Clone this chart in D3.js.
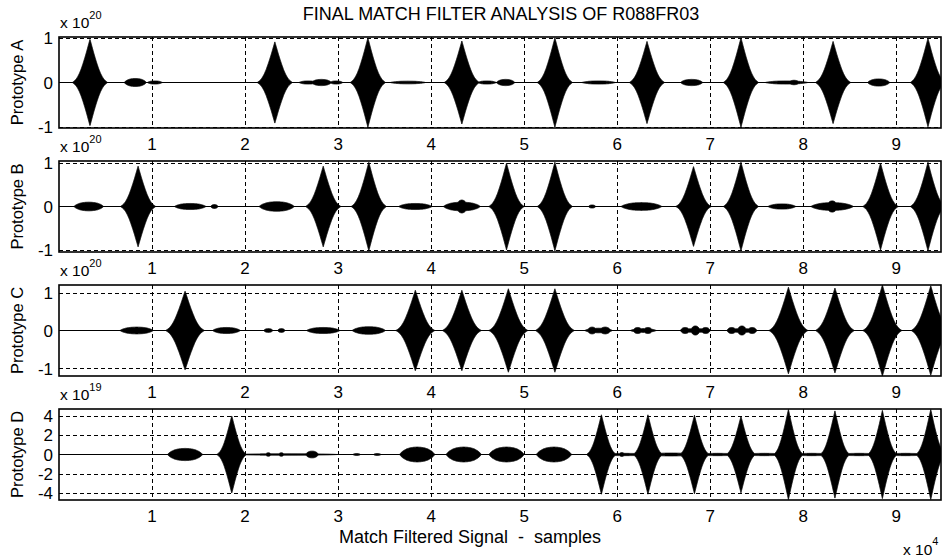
<!DOCTYPE html>
<html>
<head>
<meta charset="utf-8">
<script src="https://cdn.jsdelivr.net/npm/d3@7/dist/d3.min.js"></script>
<style>
  html, body { margin: 0; padding: 0; background: #fff; }
  svg text { font-family: "Liberation Sans", Arial, Helvetica, sans-serif; fill: #000; white-space: pre; }
</style>
</head>
<body>
<svg id="chart" width="943" height="558"></svg>
<script>
// ---------------- DATA ----------------
const title = "FINAL MATCH FILTER ANALYSIS OF R088FR03";
const xLabel = "Match Filtered Signal  -  samples";
const xExponent = "4";
const xMax = 94800;                       // samples
const xTickValues = [10000, 20000, 30000, 40000, 50000, 60000, 70000, 80000, 90000];
const xTickLabels = ["1", "2", "3", "4", "5", "6", "7", "8", "9"];

const panelNames = ["Prototype A", "Prototype B", "Prototype C", "Prototype D"];
const panelExponents = ["20", "20", "20", "19"];
const yLimits = [[-1.02, 1.02], [-1.05, 1.05], [-1.2, 1.2], [-4.7, 4.7]];
const yTicksA = [-1, 0, 1];
const yTicksB = [-1, 0, 1];
const yTicksC = [-1, 0, 1];
const yTicksD = [-4, -2, 0, 2, 4];

// burst envelopes: [centre (samples), peak amplitude, half-width (samples), kind]
// kind "p" = matched (peaked) response, "l" = weak lobe
const burstsA = [
  [3330, 0.97, 1900, "p"], [8200, 0.09, 1200, "l"], [10300, 0.035, 800, "l"],
  [23200, 0.91, 1900, "p"], [26800, 0.035, 1000, "l"], [28200, 0.07, 1100, "l"], [29800, 0.035, 700, "l"],
  [33200, 1.0, 1900, "p"], [37500, 0.03, 1900, "l"],
  [43300, 0.93, 1900, "p"], [46000, 0.035, 1000, "l"], [48000, 0.07, 1000, "l"],
  [53300, 1.0, 1900, "p"], [58000, 0.035, 1800, "l"],
  [63200, 0.92, 1900, "p"], [68000, 0.07, 1200, "l"],
  [73300, 1.0, 1900, "p"], [78200, 0.035, 2300, "l"], [79000, 0.05, 600, "l"],
  [83200, 0.92, 1900, "p"], [88100, 0.08, 1200, "l"],
  [93400, 0.99, 1900, "p"]
];
const burstsB = [
  [3200, 0.1, 1600, "l"], [8500, 0.93, 1900, "p"],
  [14100, 0.07, 1700, "l"], [16700, 0.045, 400, "l"],
  [23400, 0.11, 1900, "l"], [28400, 0.93, 1900, "p"], [33300, 1.02, 1900, "p"],
  [38300, 0.07, 1800, "l"], [43300, 0.1, 2000, "l"], [43300, 0.15, 600, "l"],
  [48100, 1.0, 1900, "p"], [53300, 1.02, 1900, "p"], [57300, 0.035, 400, "l"],
  [62600, 0.09, 2200, "l"], [68200, 0.92, 1900, "p"], [73300, 1.02, 1900, "p"],
  [77700, 0.06, 1500, "l"], [83100, 0.09, 2300, "l"], [83100, 0.13, 600, "l"],
  [88300, 1.0, 1900, "p"], [93400, 1.02, 1900, "p"]
];
const burstsC = [
  [8350, 0.09, 1800, "l"], [13550, 1.04, 2100, "p"], [18000, 0.08, 1500, "l"],
  [22500, 0.05, 500, "l"], [23900, 0.05, 400, "l"],
  [28400, 0.08, 1800, "l"], [33300, 0.1, 1800, "l"],
  [38300, 1.06, 2100, "p"], [43300, 1.06, 2100, "p"], [48300, 1.1, 2100, "p"], [53300, 1.1, 2100, "p"],
  [57300, 0.09, 500, "l"], [58700, 0.09, 600, "l"], [58000, 0.06, 1500, "l"],
  [62200, 0.08, 500, "l"], [63300, 0.08, 500, "l"], [62800, 0.05, 1400, "l"],
  [67300, 0.08, 500, "l"], [68400, 0.12, 500, "l"], [69500, 0.08, 500, "l"], [68400, 0.05, 1600, "l"],
  [72300, 0.08, 500, "l"], [73400, 0.12, 500, "l"], [74500, 0.08, 500, "l"], [73400, 0.05, 1600, "l"],
  [78400, 1.14, 2100, "p"], [83400, 1.12, 2100, "p"], [88500, 1.2, 2100, "p"], [93700, 1.18, 2100, "p"]
];
const burstsD = [
  [13550, 0.63, 1900, "l"], [18570, 4.0, 1600, "p"],
  [24500, 0.08, 5500, "l"], [22500, 0.18, 300, "l"], [23900, 0.18, 300, "l"], [27200, 0.35, 700, "l"],
  [32000, 0.1, 400, "l"], [34200, 0.1, 400, "l"],
  [38500, 0.77, 1900, "l"], [43500, 0.77, 1900, "l"], [48100, 0.77, 1900, "l"], [53200, 0.77, 1900, "l"],
  [58300, 4.1, 1600, "p"], [60500, 0.2, 300, "l"], [60800, 0.12, 2500, "l"],
  [63300, 4.1, 1600, "p"], [65800, 0.15, 2500, "l"],
  [68300, 4.05, 1600, "p"], [70800, 0.12, 2500, "l"],
  [73300, 3.95, 1600, "p"], [75800, 0.12, 2500, "l"],
  [78400, 4.65, 1600, "p"], [80900, 0.12, 2500, "l"],
  [83400, 4.5, 1600, "p"], [86000, 0.12, 2500, "l"],
  [88500, 4.55, 1600, "p"], [91000, 0.12, 2500, "l"],
  [93700, 4.65, 1600, "p"]
];

// normalised envelope profiles [u, level]
const peakProfile = [[0, 1], [0.1, 0.85], [0.2, 0.7], [0.3, 0.56], [0.4, 0.43], [0.5, 0.31],
                     [0.6, 0.21], [0.7, 0.13], [0.8, 0.07], [0.9, 0.03], [1, 0]];
const lobeProfile = [[0, 1], [0.2, 0.97], [0.4, 0.9], [0.6, 0.75], [0.8, 0.48], [0.9, 0.28], [1, 0]];

// ---------------- DRAWING ----------------
const svg = d3.select("#chart");
const panelTops = [37, 161, 285, 409];
const panelH = 91;
const left = 59, right = 941;

const x = d3.scaleLinear().domain([0, xMax]).range([left, right]);
const allBursts = [burstsA, burstsB, burstsC, burstsD];
const allYTicks = [yTicksA, yTicksB, yTicksC, yTicksD];

const profLookup = prof => d3.scaleLinear().domain(prof.map(d => d[0])).range(prof.map(d => d[1])).clamp(true);
const peakF = profLookup(peakProfile), lobeF = profLookup(lobeProfile);

function envelope(bursts, t) {
  let e = 0;
  for (const [c, a, w, k] of bursts) {
    const u = Math.abs(t - c) / w;
    if (u >= 1) continue;
    const v = a * (k === "p" ? peakF(u) : lobeF(u));
    if (v > e) e = v;
  }
  return e;
}

const samples = d3.range(0, xMax + 1, 20);

svg.append("text")
  .attr("x", 501).attr("y", 20)
  .attr("text-anchor", "middle")
  .style("font-size", "18px")
  .text(title);

panelNames.forEach((name, i) => {
  const top = panelTops[i], bottom = top + panelH;
  const y = d3.scaleLinear().domain(yLimits[i]).range([bottom, top]);
  const g = svg.append("g");

  const clipId = "clip" + i;
  svg.append("clipPath").attr("id", clipId)
    .append("rect").attr("x", left).attr("y", top).attr("width", right - left).attr("height", panelH);

  // grid
  const grid = g.append("g").attr("stroke", "#000").attr("stroke-width", 1).attr("fill", "none");
  grid.selectAll("line.v").data(xTickValues).join("line")
    .attr("x1", d => Math.round(x(d)) + 0.5).attr("x2", d => Math.round(x(d)) + 0.5)
    .attr("y1", top).attr("y2", bottom)
    .attr("stroke-dasharray", "4,3");
  grid.selectAll("line.h").data(allYTicks[i].filter(v => v !== 0)).join("line")
    .attr("x1", left).attr("x2", right)
    .attr("y1", d => Math.round(y(d)) + 0.5).attr("y2", d => Math.round(y(d)) + 0.5)
    .attr("stroke-dasharray", "4,3");

  // signal envelope
  const bursts = allBursts[i];
  const env = samples.map(t => [t, envelope(bursts, t)]);
  const area = d3.area()
    .x(d => x(d[0]))
    .y0(d => y(-d[1]))
    .y1(d => y(d[1]));
  g.append("path")
    .datum(env)
    .attr("clip-path", `url(#${clipId})`)
    .attr("d", area)
    .attr("fill", "#000")
    .attr("stroke", "#000")
    .attr("stroke-width", 0.8);
  g.append("path")
    .datum([0, xMax])
    .attr("d", d3.line().x(d => x(d)).y(() => y(0)))
    .attr("stroke", "#000").attr("stroke-width", 1).attr("fill", "none");

  // box
  g.append("rect")
    .attr("x", left).attr("y", top).attr("width", right - left).attr("height", panelH)
    .attr("fill", "none").attr("stroke", "#000").attr("stroke-width", 1.6);

  // y tick labels
  g.selectAll("text.yt").data(allYTicks[i]).join("text")
    .attr("x", 53).attr("y", d => y(d))
    .attr("dy", "0.36em")
    .attr("text-anchor", "end")
    .style("font-size", "17px")
    .text(d => String(d));

  // x tick labels
  g.selectAll("text.xt").data(xTickValues).join("text")
    .attr("x", d => x(d)).attr("y", bottom + 22)
    .attr("text-anchor", "middle")
    .style("font-size", "17px")
    .text((d, j) => xTickLabels[j]);

  // y label
  g.append("text")
    .attr("transform", `translate(23,${(top + bottom) / 2}) rotate(-90)`)
    .attr("text-anchor", "middle")
    .style("font-size", "16.5px")
    .text(name);

  // exponent
  const ex = g.append("text").attr("x", 60).attr("y", top - 9.5).style("font-size", "15.5px");
  ex.append("tspan").text("x 10");
  ex.append("tspan").attr("dy", -9).style("font-size", "11px").text(panelExponents[i]);
});

svg.append("text")
  .attr("x", 470).attr("y", 543)
  .attr("text-anchor", "middle")
  .style("font-size", "18px")
  .text(xLabel);

const xe = svg.append("text").attr("x", 903).attr("y", 555).style("font-size", "15.5px");
xe.append("tspan").text("x 10");
xe.append("tspan").attr("dy", -10).style("font-size", "11px").text(xExponent);
</script>
</body>
</html>
